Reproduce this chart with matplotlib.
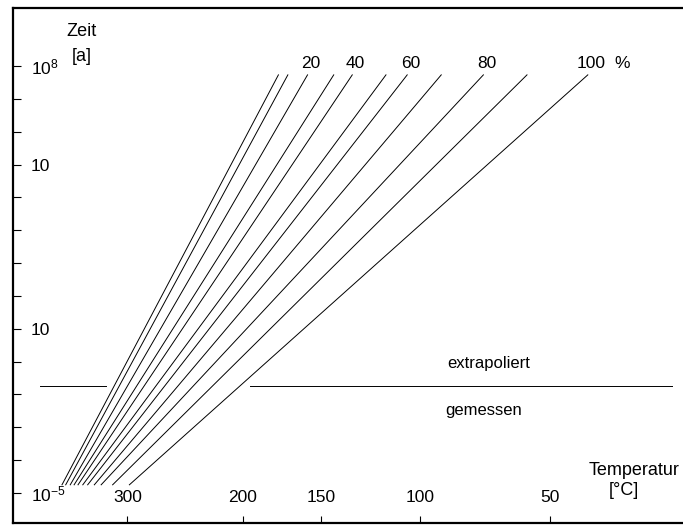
import matplotlib
matplotlib.use("Agg")
import matplotlib.pyplot as plt
import numpy as np

plt.rcParams['font.family'] = ['Liberation Sans', 'DejaVu Sans']
plt.rcParams['mathtext.fontset'] = 'custom'
plt.rcParams['mathtext.rm'] = 'Liberation Sans'

# share (%) of each line, temperature (degC) at the lower and upper end
shares = [0, 10, 20, 30, 40, 50, 60, 70, 80, 90, 100]
temp_low = [378, 373, 367, 362, 357, 351, 345, 337, 329, 316, 298]
temp_high = [176, 170, 158, 143, 133, 116, 106, 91, 74, 58, 38]
time_low = 10 ** -4.75
time_high = 10 ** 7.73

# measured / extrapolated boundary
boundary_time = 10 ** -1.75
boundary_left = [409, 323]
boundary_right = [195, 14]

temp_ticks = [300, 200, 150, 100, 50]
time_ticks = [10.0 ** e for e in range(8, -6, -1)]
time_labels = {8: r'$\mathregular{10^{8}}$', 5: '10', 0: '10',
               -5: r'$\mathregular{10^{-5}}$'}
share_labels = [20, 40, 60, 80, 100]


def inv(t):
    return 1000.0 / (np.asarray(t, dtype=float) + 273.15)


fig = plt.figure(figsize=(6.83, 5.26), dpi=100)
ax = fig.add_axes([13 / 683, 3 / 526, 670 / 683, 515 / 526])

for lo, hi in zip(temp_low, temp_high):
    ax.plot(inv([lo, hi]), [time_low, time_high], color='black', lw=0.7)

ax.plot(inv(boundary_left), [boundary_time] * 2, color='black', lw=0.7)
ax.plot(inv(boundary_right), [boundary_time] * 2, color='black', lw=0.7)

ax.set_yscale('log')
ax.set_xlim(1.3794, 3.5177)
ax.set_ylim(10 ** -5.913, 10 ** 9.766)

ax.set_yticks(time_ticks)
ax.set_yticklabels([time_labels.get(int(round(np.log10(t))), '') for t in time_ticks])
ax.yaxis.set_minor_locator(matplotlib.ticker.NullLocator())
ax.tick_params(axis='y', direction='in', length=6, width=0.8, pad=-13, labelsize=12.5)
for lbl in ax.get_yticklabels():
    lbl.set_ha('left')

ax.set_xticks(inv(temp_ticks))
ax.set_xticklabels([str(t) for t in temp_ticks])
ax.tick_params(axis='x', direction='in', length=5, width=0.8, pad=-24, labelsize=12.5)

for s in ['left', 'bottom', 'top']:
    ax.spines[s].set_linewidth(1.6)
ax.spines['right'].set_visible(False)

# line labels at the top
for lbl in share_labels:
    i = shares.index(lbl)
    xl = inv(temp_high[i])
    ax.text(xl + 0.01, 10 ** 8.09, str(lbl), ha='center', va='center', fontsize=12.5)
ax.text(inv(temp_high[-1]) + 0.11, 10 ** 8.09, '%', ha='center', va='center', fontsize=12.5)

ax.text(0.102, 0.955, 'Zeit', transform=ax.transAxes, ha='center', va='center', fontsize=13)
ax.text(0.102, 0.906, '[a]', transform=ax.transAxes, ha='center', va='center', fontsize=13)
ax.text(0.995, 0.102, 'Temperatur', transform=ax.transAxes, ha='right', va='center', fontsize=13)
ax.text(0.912, 0.063, '[°C]', transform=ax.transAxes, ha='center', va='center', fontsize=13)

ax.text(inv(72), 10 ** -1.05, 'extrapoliert', ha='center', va='center', fontsize=12)
ax.text(inv(74), 10 ** -2.5, 'gemessen', ha='center', va='center', fontsize=12)

fig.savefig('out.png', dpi=100)
